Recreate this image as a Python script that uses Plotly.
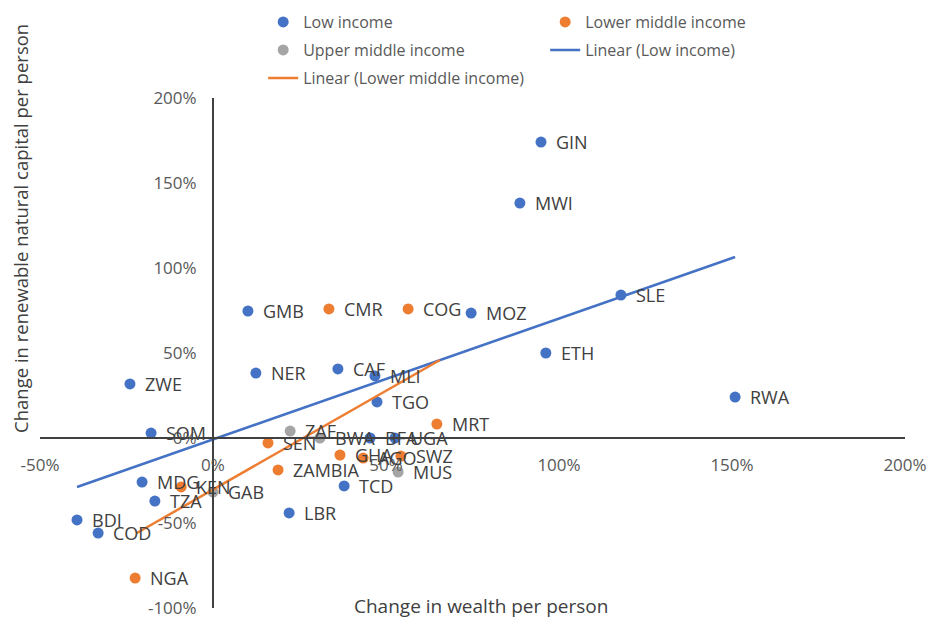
import plotly.graph_objects as go

# ---- data (percent change) ----
low_codes = ["GIN", "MWI", "SLE", "MOZ", "ETH", "RWA", "GMB", "NER", "CAF", "MLI", "TGO",
             "ZWE", "SOM", "BFA", "UGA", "MDG", "TZA", "BDI", "COD", "LBR", "TCD"]
low_x = [94.8, 88.7, 117.9, 74.6, 96.2, 150.9, 10.1, 12.4, 36.1, 46.8, 47.4,
         -24.0, -17.9, 45.4, 52.6, -20.5, -16.8, -39.3, -33.2, 22.0, 37.9]
low_y = [174.1, 138.2, 84.1, 73.5, 50.0, 24.1, 74.7, 38.2, 40.6, 36.5, 21.2,
         31.8, 2.9, 0.0, 0.0, -25.9, -37.1, -48.2, -55.9, -44.1, -28.2]

lm_codes = ["CMR", "COG", "MRT", "SEN", "GHA", "AGO", "SWZ", "ZAMBIA", "KEN", "NGA"]
lm_x = [33.5, 56.4, 64.7, 15.9, 36.7, 43.4, 54.3, 18.8, -9.2, -22.5]
lm_y = [75.9, 75.9, 8.2, -2.9, -10.0, -11.8, -10.6, -18.8, -28.8, -82.4]

um_codes = ["ZAF", "BWA", "MUS", "GAB"]
um_x = [22.3, 30.9, 53.5, 0.0]
um_y = [4.1, 0.0, -20.0, -31.8]

# linear trendlines (end points)
low_trend_x = [-39.3, 150.9]
low_trend_y = [-28.8, 106.5]
lm_trend_x = [-22.0, 65.6]
lm_trend_y = [-55.9, 45.9]

x_ticks = [-50, 0, 50, 100, 150, 200]
x_ticktext = ["-50%", "0%", "50%", "100%", "150%", "200%"]
y_ticks = [-100, -50, 0, 50, 100, 150, 200]
y_ticktext = ["-100%", "-50%", "0%", "50%", "100%", "150%", "200%"]

BLUE = "#4472C4"
ORANGE = "#ED7D31"
GRAY = "#A5A5A5"
FONT = "Open Sans"
TXT = "#404040"
AX = "#595959"

X_RANGE = [-50, 200]
Y_RANGE = [-100, 200]

fig = go.Figure()

fig.add_trace(go.Scatter(x=low_x, y=low_y, mode="markers", name="Low income",
                         marker=dict(color=BLUE, size=11), legend="legend"))
fig.add_trace(go.Scatter(x=lm_x, y=lm_y, mode="markers", name="Lower middle income",
                         marker=dict(color=ORANGE, size=11), legend="legend"))
fig.add_trace(go.Scatter(x=um_x, y=um_y, mode="markers", name="Upper middle income",
                         marker=dict(color=GRAY, size=11), legend="legend2"))
fig.add_trace(go.Scatter(x=low_trend_x, y=low_trend_y, mode="lines", name="Linear (Low income)",
                         line=dict(color=BLUE, width=2.5), legend="legend2"))
fig.add_trace(go.Scatter(x=lm_trend_x, y=lm_trend_y, mode="lines",
                         name="Linear (Lower middle income)",
                         line=dict(color=ORANGE, width=2.5), legend="legend3"))

annotations = []
for codes, xs, ys in [(low_codes, low_x, low_y), (lm_codes, lm_x, lm_y), (um_codes, um_x, um_y)]:
    for c, xv, yv in zip(codes, xs, ys):
        annotations.append(dict(x=xv, y=yv, xref="x", yref="y", text=c, showarrow=False,
                                xanchor="left", yanchor="middle", xshift=13,
                                font=dict(family=FONT, size=18, color=TXT)))

# axis titles
annotations.append(dict(x=0.51, y=0.004, xref="paper", yref="paper",
                        text="Change in wealth per person", showarrow=False,
                        xanchor="center", yanchor="middle",
                        font=dict(family=FONT, size=19, color=TXT)))
annotations.append(dict(x=-0.0232, y=0.745, xref="paper", yref="paper",
                        text="Change in renewable natural capital per person", showarrow=False,
                        textangle=-90, xanchor="center", yanchor="middle",
                        font=dict(family=FONT, size=18.5, color=TXT)))

legend_common = dict(orientation="h", xanchor="left", yanchor="middle",
                     bgcolor="rgba(0,0,0,0)", font=dict(family=FONT, size=16, color=AX),
                     entrywidth=237, entrywidthmode="pixels", itemclick=False)

# the page body adds an 8px offset, so margins are reduced by 8 on left/top
fig.update_layout(
    width=941, height=619,
    margin=dict(l=32, r=44, t=90, b=19, autoexpand=False),
    paper_bgcolor="white", plot_bgcolor="white",
    font=dict(family=FONT, color=AX),
    showlegend=True,
    legend=dict(x=0.258, y=1.149, **legend_common),
    legend2=dict(x=0.258, y=1.094, **legend_common),
    legend3=dict(x=0.258, y=1.039, **legend_common),
    xaxis=dict(range=X_RANGE, anchor="free", position=1/3, showline=True,
               linecolor="#404040", linewidth=2, showgrid=False, zeroline=False,
               tickvals=x_ticks, ticktext=x_ticktext, ticks="outside", ticklen=12,
               tickcolor="rgba(0,0,0,0)", tickfont=dict(family=FONT, size=17, color=AX),
               automargin=False, fixedrange=True),
    yaxis=dict(range=Y_RANGE, anchor="free", position=0.2, showline=True,
               linecolor="#404040", linewidth=2, showgrid=False, zeroline=False,
               tickvals=y_ticks, ticktext=y_ticktext, ticks="outside", ticklen=12,
               tickcolor="rgba(0,0,0,0)", tickfont=dict(family=FONT, size=17, color=AX),
               automargin=False, fixedrange=True),
    annotations=annotations,
)

fig.write_html("out.html")
